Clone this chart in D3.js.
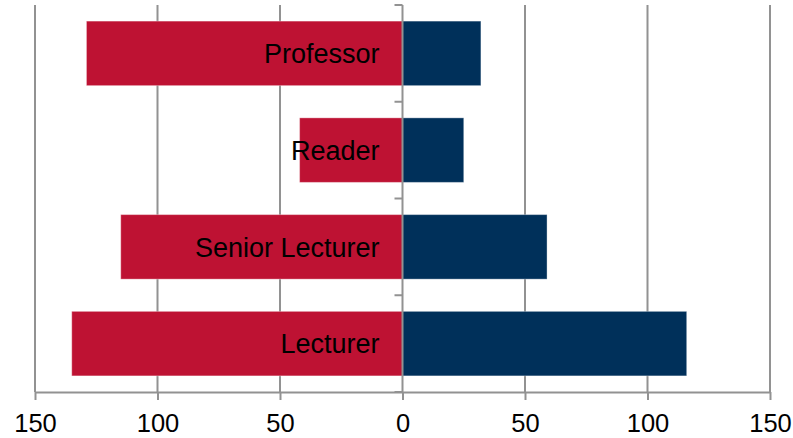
<!DOCTYPE html>
<html>
<head>
<meta charset="utf-8">
<script src="https://cdn.jsdelivr.net/npm/d3@7"></script>
<style>
  html, body { margin: 0; padding: 0; background: #fff; }
  svg { display: block; font-family: "Liberation Sans", Arial, sans-serif; }
</style>
</head>
<body>
<svg id="chart" width="793" height="438"></svg>
<script>
// Staff grades with counts on each side of the centre line
const categories = ["Professor", "Reader", "Senior Lecturer", "Lecturer"];
const leftValues = [129, 42, 115, 135];   // drawn to the left (red)
const rightValues = [32, 25, 59, 116];    // drawn to the right (navy)
const tickValues = [-150, -100, -50, 0, 50, 100, 150];

const svg = d3.select("#chart");
const margin = { top: 5, left: 35, right: 23, bottom: 46 };
const width = 793, height = 438;

const x = d3.scaleLinear()
  .domain([-150, 150])
  .range([margin.left, width - margin.right]);

const y = d3.scaleBand()
  .domain(categories)
  .range([margin.top, height - margin.bottom])
  .paddingInner(0.333)
  .paddingOuter(0.1665);

const gridColor = "#929292";

// vertical gridlines
svg.append("g")
  .selectAll("line")
  .data(tickValues.filter(d => d !== 0))
  .join("line")
  .attr("x1", d => x(d)).attr("x2", d => x(d))
  .attr("y1", margin.top).attr("y2", height - margin.bottom)
  .attr("stroke", gridColor)
  .attr("stroke-width", 2);

const rows = categories.map((c, i) => ({ c, left: leftValues[i], right: rightValues[i] }));

// left bars
svg.append("g")
  .selectAll("rect")
  .data(rows)
  .join("rect")
  .attr("x", d => x(-d.left))
  .attr("y", d => y(d.c))
  .attr("width", d => x(0) - x(-d.left))
  .attr("height", y.bandwidth())
  .attr("fill", "#BE1233")
  .attr("stroke", "rgba(255,255,255,0.35)")
  .attr("stroke-width", 1);

// right bars
svg.append("g")
  .selectAll("rect")
  .data(rows)
  .join("rect")
  .attr("x", x(0))
  .attr("y", d => y(d.c))
  .attr("width", d => x(d.right) - x(0))
  .attr("height", y.bandwidth())
  .attr("fill", "#00305A")
  .attr("stroke", "rgba(255,255,255,0.35)")
  .attr("stroke-width", 1);

// category labels, right-aligned just left of the centre line
svg.append("g")
  .selectAll("text")
  .data(rows)
  .join("text")
  .attr("x", x(0) - 23)
  .attr("y", d => y(d.c) + y.bandwidth() / 2)
  .attr("dy", "0.36em")
  .attr("text-anchor", "end")
  .attr("font-size", 27)
  .attr("fill", "#000")
  .text(d => d.c);

// centre axis with ticks at band boundaries
const centre = svg.append("g");
centre.append("line")
  .attr("x1", x(0)).attr("x2", x(0))
  .attr("y1", margin.top).attr("y2", height - margin.bottom)
  .attr("stroke", gridColor)
  .attr("stroke-width", 2);
const boundaries = categories.map(c => y(c) - y.step() * y.paddingInner() / 2)
  .concat([height - margin.bottom]);
centre.selectAll("line.tick")
  .data(boundaries)
  .join("line")
  .attr("class", "tick")
  .attr("x1", x(0) - 8).attr("x2", x(0))
  .attr("y1", d => d).attr("y2", d => d)
  .attr("stroke", gridColor)
  .attr("stroke-width", 2);

// bottom axis
const xAxis = d3.axisBottom(x)
  .tickValues(tickValues)
  .tickFormat(d => Math.abs(d))
  .tickSizeInner(8)
  .tickSizeOuter(0)
  .tickPadding(14);

const gx = svg.append("g")
  .attr("transform", `translate(0,${height - margin.bottom})`)
  .call(xAxis);
gx.select(".domain").attr("stroke", gridColor).attr("stroke-width", 2);
gx.selectAll(".tick line").attr("stroke", gridColor).attr("stroke-width", 2);
gx.selectAll(".tick text")
  .attr("font-size", 25.5)
  .attr("font-family", "Liberation Sans, Arial, sans-serif")
  .attr("fill", "#000");
</script>
</body>
</html>
